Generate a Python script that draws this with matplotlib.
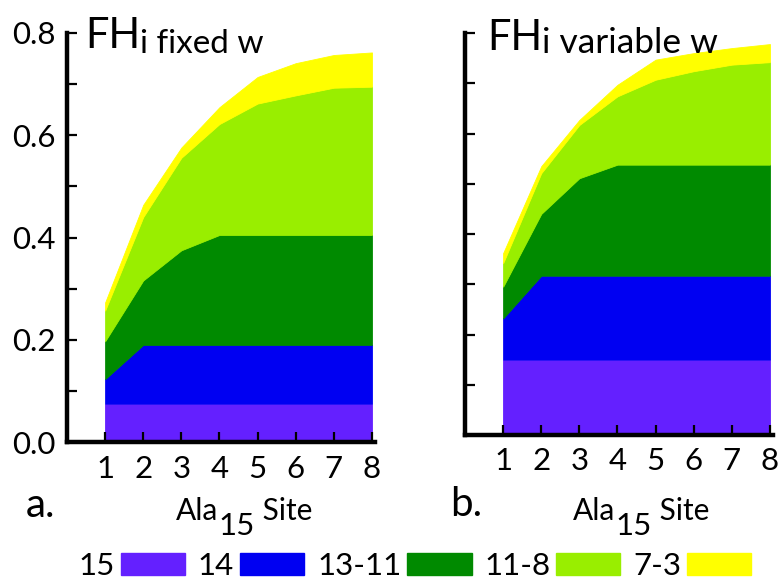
import matplotlib
matplotlib.use("Agg")
import matplotlib.pyplot as plt
from matplotlib.patches import Patch

plt.rcParams['font.family'] = ['Lato', 'DejaVu Sans']

sites = [1, 2, 3, 4, 5, 6, 7, 8]
layer_names = ["15", "14", "13-11", "11-8", "7-3"]
layer_colors = ["#6420ff", "#0000f2", "#008a00", "#99ee00", "#ffff00"]

# Layer thicknesses (stacked) for fixed weights
fixed_15 = [0.075, 0.075, 0.075, 0.075, 0.075, 0.075, 0.075, 0.075]
fixed_14 = [0.048, 0.115, 0.115, 0.115, 0.115, 0.115, 0.115, 0.115]
fixed_13_11 = [0.074, 0.126, 0.185, 0.215, 0.215, 0.215, 0.215, 0.215]
fixed_11_8 = [0.060, 0.124, 0.181, 0.217, 0.257, 0.273, 0.288, 0.290]
fixed_7_3 = [0.016, 0.024, 0.020, 0.033, 0.052, 0.063, 0.064, 0.067]

# Layer thicknesses (stacked) for variable weights
var_15 = [0.150, 0.150, 0.150, 0.150, 0.150, 0.150, 0.150, 0.150]
var_14 = [0.082, 0.167, 0.167, 0.167, 0.167, 0.167, 0.167, 0.167]
var_13_11 = [0.063, 0.123, 0.194, 0.221, 0.221, 0.221, 0.221, 0.221]
var_11_8 = [0.047, 0.081, 0.106, 0.136, 0.169, 0.186, 0.199, 0.204]
var_7_3 = [0.020, 0.014, 0.010, 0.023, 0.040, 0.036, 0.033, 0.036]

y_ticks = [0.0, 0.2, 0.4, 0.6, 0.8]
y_minor = [0.1, 0.3, 0.5, 0.7]

W, H = 782, 584
fig = plt.figure(figsize=(W / 100, H / 100), dpi=100)


def fx(px):
    return px / W


def fy(py):
    return 1 - py / H


def panel(rect, layers, show_labels):
    ax = fig.add_axes(rect)
    ax.stackplot(sites, *layers, colors=layer_colors, edgecolor='face', linewidth=0.6)
    ax.set_xlim(0, 8.08)
    ax.set_ylim(0, 0.8)
    for s in ("top", "right"):
        ax.spines[s].set_visible(False)
    for s in ("left", "bottom"):
        ax.spines[s].set_linewidth(3.2)
        ax.spines[s].set_color("black")
    ax.set_xticks(sites)
    ax.set_yticks(y_ticks)
    ax.set_yticks(y_minor, minor=True)
    ax.tick_params(axis='both', which='both', direction='in', width=1.6,
                   color='black', labelsize=22.5)
    ax.tick_params(axis='y', which='major', length=7, pad=8)
    ax.tick_params(axis='y', which='minor', length=7)
    ax.tick_params(axis='x', which='major', length=7, pad=9)
    if show_labels:
        ax.set_yticklabels([f"{v:.1f}" for v in y_ticks])
    else:
        ax.set_yticklabels([])
    return ax


ax_a = panel([fx(67), fy(442), fx(308), (442 - 33) / H],
             [fixed_15, fixed_14, fixed_13_11, fixed_11_8, fixed_7_3], True)
ax_b = panel([fx(465), fy(435), fx(308), (435 - 33) / H],
             [var_15, var_14, var_13_11, var_11_8, var_7_3], False)

renderer = fig.canvas.get_renderer()


def run_text(x_px, parts):
    """Place consecutive text pieces (text, size, baseline_px) left to right."""
    x = x_px
    for s, size, base in parts:
        t = fig.text(fx(x), fy(base), s, fontsize=size, va='baseline', ha='left')
        x = t.get_window_extent(renderer).x1


# Panel titles
run_text(85, [("FH", 30, 48), ("i fixed w", 24, 53)])
run_text(487, [("FH", 30, 50), ("i variable w", 25.5, 53)])

# Panel letters
fig.text(fx(26), fy(517), "a.", fontsize=29, va='baseline', ha='left')
fig.text(fx(450), fy(516), "b.", fontsize=29, va='baseline', ha='left')

# Axis titles: Ala with subscript 15, then "Site"
for x0 in (176, 573):
    run_text(x0, [("Ala", 21.5, 520), ("15", 22.5, 535), (" Site", 21.5, 520)])

# Legend with labels before swatches
handles = [Patch(facecolor=c, edgecolor=c) for c in layer_colors]
fig.legend(handles, layer_names, loc='center', bbox_to_anchor=(fx(415), fy(566)),
           ncol=5, frameon=False, markerfirst=False, fontsize=22.5,
           handlelength=2.05, handleheight=0.72, handletextpad=0.2,
           columnspacing=0.4, borderpad=0)

fig.savefig("out.png", dpi=100)
